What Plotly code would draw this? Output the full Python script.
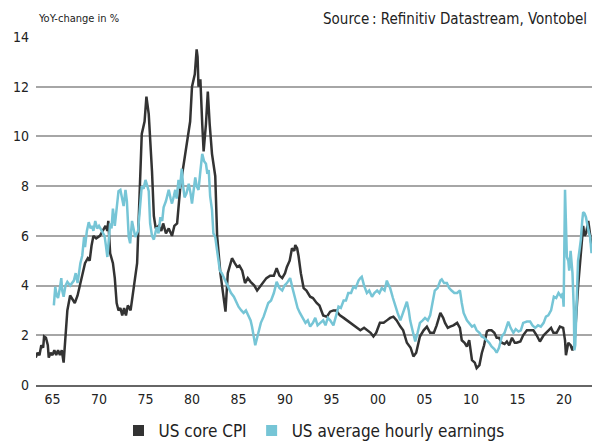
import plotly.graph_objects as go

# ---- data ----
cpi_year = [1963.2, 1963.4, 1963.6, 1963.8, 1964.0, 1964.1, 1964.3, 1964.5, 1964.6, 1964.8,
            1965.0, 1965.2, 1965.4, 1965.6, 1965.8, 1966.0, 1966.2, 1966.4, 1966.6, 1966.9,
            1967.1, 1967.4, 1967.7, 1968.0, 1968.3, 1968.5, 1968.8, 1969.0, 1969.2, 1969.4,
            1969.7, 1970.1, 1970.4, 1970.7, 1970.9, 1971.0, 1971.2, 1971.5, 1971.7, 1971.9,
            1972.1, 1972.3, 1972.5, 1972.7, 1972.9, 1973.1, 1973.4, 1973.7, 1974.1, 1974.3,
            1974.6, 1974.9, 1975.1, 1975.35, 1975.5, 1975.7, 1975.9, 1976.1, 1976.4, 1976.7,
            1976.9, 1977.2, 1977.5, 1977.85, 1978.1, 1978.4, 1978.75, 1979.0, 1979.3, 1979.6,
            1979.8, 1980.0, 1980.3, 1980.5, 1980.6, 1980.7, 1980.9, 1981.1, 1981.25, 1981.5,
            1981.7, 1981.9, 1982.15, 1982.5, 1982.7, 1983.05, 1983.3, 1983.6, 1983.85, 1984.1,
            1984.3, 1984.6, 1984.85, 1985.1, 1985.4, 1985.7, 1986.0, 1986.3, 1986.7, 1987.0,
            1987.4, 1987.7, 1988.0, 1988.4, 1988.8, 1989.1, 1989.4, 1989.7, 1990.0, 1990.2,
            1990.5, 1990.75, 1991.0, 1991.1, 1991.3, 1991.45, 1991.7, 1992.0, 1992.3, 1992.7,
            1993.0, 1993.4, 1993.7, 1994.1, 1994.5, 1994.85, 1995.2, 1995.5, 1995.9, 1996.3,
            1996.65, 1997.0, 1997.35, 1997.7, 1998.1, 1998.5, 1998.8, 1999.2, 1999.5, 1999.8,
            2000.2, 2000.6, 2000.95, 2001.3, 2001.65, 2002.0, 2002.4, 2002.7, 2003.1, 2003.5,
            2003.8, 2004.1, 2004.5, 2004.9, 2005.25, 2005.6, 2006.0, 2006.3, 2006.7, 2007.0,
            2007.2, 2007.5, 2007.75, 2008.1, 2008.5, 2008.8, 2009.0, 2009.3, 2009.55, 2009.8,
            2010.1, 2010.4, 2010.6, 2010.9, 2011.15, 2011.4, 2011.7, 2011.9, 2012.2, 2012.5,
            2012.75, 2013.0, 2013.3, 2013.6, 2013.85, 2014.1, 2014.4, 2014.7, 2014.9, 2015.3,
            2015.6, 2016.0, 2016.35, 2016.7, 2017.05, 2017.4, 2017.8, 2018.3, 2018.6, 2018.85,
            2019.2, 2019.55, 2019.9, 2020.1, 2020.2, 2020.45, 2020.7, 2020.9, 2021.1, 2021.5,
            2021.8, 2022.05, 2022.2, 2022.36, 2022.6, 2022.8, 2022.97]
cpi_value = [1.1, 1.3, 1.2, 1.6, 1.5, 1.95, 1.9, 1.6, 1.1, 1.3,
             1.2, 1.4, 1.2, 1.4, 1.2, 1.4, 0.9, 2.0, 3.0, 3.6,
             3.5, 3.3, 3.6, 4.1, 4.6, 4.9, 5.1, 5.0, 5.6, 6.0,
             5.9, 6.0, 6.2, 6.4, 6.2, 6.6, 5.3, 4.9, 4.3, 3.3,
             3.0, 3.1, 2.8, 3.1, 2.8, 3.2, 3.0, 3.8, 4.9, 7.0,
             10.1, 10.6, 11.6, 10.9, 10.0, 8.6, 6.8, 6.3, 6.4, 6.2,
             6.5, 6.1, 6.3, 6.0, 6.4, 6.5, 8.0, 8.6, 9.4, 10.0,
             10.6, 12.0, 12.5, 13.5, 13.2, 12.0, 12.3, 10.5, 9.4, 10.5,
             11.8, 10.5, 9.3, 8.4, 6.0, 4.5, 3.8, 2.95, 4.5, 4.9,
             5.1, 4.9, 4.75, 4.8, 4.6, 4.1, 4.3, 4.15, 4.0, 3.8,
             4.0, 4.2, 4.3, 4.4, 4.4, 4.7, 4.4, 4.3, 4.5, 4.75,
             5.0, 5.5, 5.4, 5.63, 5.5, 5.2, 4.5, 3.9, 3.8, 3.55,
             3.5, 3.3, 3.2, 2.8, 2.75, 2.95, 3.0, 3.0, 2.8, 2.7,
             2.6, 2.5, 2.4, 2.3, 2.2, 2.3, 2.2, 2.1, 1.95, 2.1,
             2.5, 2.5, 2.6, 2.7, 2.75, 2.6, 2.35, 2.2, 1.7, 1.5,
             1.15, 1.3, 1.95, 2.2, 2.35, 2.1, 2.1, 2.4, 2.9, 2.7,
             2.5, 2.3, 2.35, 2.4, 2.5, 2.3, 1.8, 1.7, 1.55, 1.8,
             1.0, 0.9, 0.68, 0.8, 1.28, 1.6, 2.15, 2.2, 2.2, 2.1,
             1.9, 1.9, 1.7, 1.65, 1.75, 1.6, 1.9, 1.7, 1.7, 1.75,
             2.0, 2.2, 2.2, 2.2, 2.0, 1.75, 2.0, 2.2, 2.3, 2.1,
             2.1, 2.35, 2.3, 1.8, 1.2, 1.7, 1.6, 1.4, 1.6, 3.95,
             5.2, 6.4, 6.0, 6.1, 6.6, 6.0, 5.55]

ahe_year = [1965.15, 1965.3, 1965.45, 1965.6, 1965.8, 1965.95, 1966.05, 1966.2, 1966.4, 1966.6,
            1966.9, 1967.1, 1967.3, 1967.5, 1967.7, 1968.0, 1968.2, 1968.4, 1968.5, 1968.7,
            1968.9, 1969.1, 1969.25, 1969.4, 1969.6, 1969.8, 1970.0, 1970.3, 1970.6, 1970.75,
            1970.9, 1971.05, 1971.2, 1971.35, 1971.5, 1971.7, 1971.9, 1972.1, 1972.3, 1972.5,
            1972.65, 1972.85, 1973.0, 1973.2, 1973.35, 1973.55, 1973.75, 1973.9, 1974.2, 1974.4,
            1974.6, 1974.8, 1975.0, 1975.2, 1975.35, 1975.5, 1975.7, 1975.9, 1976.2, 1976.4,
            1976.6, 1976.8, 1976.95, 1977.2, 1977.5, 1977.7, 1977.85, 1978.05, 1978.2, 1978.35,
            1978.55, 1978.7, 1978.9, 1979.05, 1979.2, 1979.4, 1979.65, 1979.85, 1980.0, 1980.2,
            1980.35, 1980.5, 1980.7, 1980.9, 1981.1, 1981.3, 1981.5, 1981.65, 1981.8, 1981.95,
            1982.15, 1982.3, 1982.5, 1982.7, 1983.0, 1983.2, 1983.4, 1983.7, 1983.95, 1984.2,
            1984.5, 1984.8, 1985.0, 1985.3, 1985.55, 1985.8, 1986.1, 1986.3, 1986.45, 1986.65,
            1986.8, 1987.0, 1987.15, 1987.4, 1987.7, 1987.95, 1988.2, 1988.5, 1988.8, 1989.1,
            1989.4, 1989.7, 1989.95, 1990.2, 1990.55, 1990.8, 1991.1, 1991.35, 1991.6, 1991.9,
            1992.2, 1992.45, 1992.7, 1993.0, 1993.25, 1993.5, 1993.8, 1994.1, 1994.35, 1994.6,
            1994.85, 1995.2, 1995.5, 1995.75, 1996.0, 1996.3, 1996.55, 1996.8, 1997.1, 1997.35,
            1997.6, 1997.9, 1998.1, 1998.25, 1998.5, 1998.8, 1999.05, 1999.35, 1999.6, 1999.9,
            2000.15, 2000.4, 2000.7, 2000.95, 2001.1, 2001.3, 2001.6, 2001.85, 2002.1, 2002.4,
            2002.75, 2003.1, 2003.3, 2003.45, 2003.7, 2004.0, 2004.25, 2004.5, 2004.8, 2005.05,
            2005.35, 2005.6, 2005.85, 2006.1, 2006.4, 2006.7, 2006.85, 2007.1, 2007.4, 2007.65,
            2007.9, 2008.2, 2008.5, 2008.8, 2009.0, 2009.2, 2009.55, 2009.8, 2010.1, 2010.35,
            2010.6, 2010.9, 2011.15, 2011.4, 2011.7, 2011.95, 2012.2, 2012.5, 2012.75, 2013.0,
            2013.3, 2013.6, 2014.0, 2014.25, 2014.55, 2014.8, 2015.1, 2015.35, 2015.6, 2016.0,
            2016.35, 2016.6, 2016.9, 2017.2, 2017.5, 2017.8, 2018.05, 2018.3, 2018.6, 2018.9,
            2019.15, 2019.4, 2019.6, 2019.75, 2019.85, 2019.95, 2020.1, 2020.2, 2020.3, 2020.45,
            2020.55, 2020.7, 2020.85, 2020.9, 2021.05, 2021.1, 2021.2, 2021.35, 2021.5, 2021.65,
            2021.8, 2021.95, 2022.05, 2022.2, 2022.35, 2022.6, 2022.8, 2022.95]
ahe_value = [3.2, 3.95, 3.6, 3.5, 3.9, 4.3, 3.8, 3.55, 4.0, 4.15,
             4.0, 4.1, 4.2, 4.5, 4.1, 4.9, 5.2, 5.95, 5.55, 6.2,
             6.55, 6.3, 6.4, 6.2, 6.6, 6.3, 6.4, 6.2, 6.0, 5.6,
             5.15, 5.8, 6.5, 6.3, 7.1, 6.4, 7.0, 7.8, 7.85, 7.5,
             7.2, 7.85, 7.4, 5.95, 5.7, 6.6, 6.2, 5.95, 6.2, 7.0,
             8.0, 7.9, 8.25, 8.0, 7.8, 6.5, 6.0, 5.85, 6.35, 6.1,
             6.75, 6.6, 7.15, 7.4, 7.85, 7.5, 7.3, 7.6, 7.85, 7.5,
             8.25, 7.9, 8.7, 8.0, 7.55, 7.7, 8.1, 7.7, 7.3, 7.9,
             8.35, 8.0, 7.85, 8.6, 9.3, 9.0, 8.9, 8.5, 8.65, 7.6,
             7.05, 6.1, 5.95, 5.4, 4.6, 4.5, 4.35, 4.1, 3.95, 3.7,
             3.55, 3.3, 3.15, 3.0, 2.9, 3.0, 2.75, 2.6, 2.35, 1.9,
             1.6, 1.9, 2.1, 2.5, 2.75, 3.0, 3.3, 3.4, 3.7, 4.15,
             3.9, 3.8, 4.0, 4.1, 4.3, 3.9, 3.4, 3.1, 2.9, 2.7,
             2.5, 2.6, 2.35, 2.5, 2.7, 2.4, 2.5, 2.6, 2.4, 2.7,
             2.6, 2.4, 2.8, 3.15, 3.1, 3.4, 3.4, 3.7, 3.7, 3.95,
             3.9, 4.2, 4.3, 4.35, 4.0, 3.7, 3.8, 3.55, 3.7, 3.8,
             3.7, 3.9, 3.8, 4.2, 4.05, 3.9, 3.5, 3.15, 2.9, 2.6,
             3.0, 3.35, 3.0, 2.6, 2.2, 1.75, 2.1, 2.5, 2.6, 2.7,
             2.6, 2.8, 3.3, 3.8, 3.9, 4.2, 4.25, 4.1, 4.1, 3.9,
             3.8, 3.7, 3.7, 3.8, 3.3, 2.9, 2.6, 2.5, 2.35, 2.4,
             2.2, 2.1, 1.95, 1.9, 1.8, 1.7, 1.55, 1.45, 1.3, 1.5,
             1.95, 2.1, 2.55, 2.3, 2.1, 2.25, 2.15, 2.2, 2.5, 2.55,
             2.55, 2.4, 2.3, 2.4, 2.35, 2.5, 2.75, 2.8, 3.0, 3.55,
             3.5, 3.7, 3.6, 3.5, 3.7, 3.15, 7.85, 6.5, 5.15, 5.0,
             4.6, 5.4, 4.8, 4.5, 3.0, 1.4, 1.6, 3.5, 5.0, 5.4,
             5.85, 6.6, 6.95, 6.9, 6.75, 6.25, 5.95, 5.3]

tick_years = [1965, 1970, 1975, 1980, 1985, 1990, 1995, 2000, 2005, 2010, 2015, 2020]
tick_labels = ["65", "70", "75", "80", "85", "90", "95", "00", "05", "10", "15", "20"]

series_names = ["US core CPI", "US average hourly earnings"]
CPI_COLOR = "#333333"
AHE_COLOR = "#76C5D6"
FONT = "DejaVu Sans Condensed, Liberation Sans, sans-serif"

fig = go.Figure()
fig.add_trace(go.Scatter(x=cpi_year, y=cpi_value, mode="lines",
                         line=dict(color=CPI_COLOR, width=2.5), showlegend=False))
fig.add_trace(go.Scatter(x=ahe_year, y=ahe_value, mode="lines",
                         line=dict(color=AHE_COLOR, width=2.5), showlegend=False))
# legend entries with square markers
fig.add_trace(go.Scatter(x=[None], y=[None], mode="markers", name=series_names[0],
                         marker=dict(symbol="square", size=11, color=CPI_COLOR)))
fig.add_trace(go.Scatter(x=[None], y=[None], mode="markers", name=series_names[1],
                         marker=dict(symbol="square", size=11, color=AHE_COLOR)))

fig.update_layout(
    width=594, height=442,
    margin=dict(l=36, r=2, t=37, b=57, autoexpand=False),
    paper_bgcolor="white", plot_bgcolor="white",
    font=dict(family=FONT, color="#222222"),
    showlegend=True,
    legend=dict(orientation="h", x=0.5, xanchor="center",
                yref="container", y=11 / 442, yanchor="middle",
                font=dict(size=17, color="#222222"), itemwidth=30,
                bgcolor="rgba(0,0,0,0)"),
    xaxis=dict(range=[1963.23, 2023.0], tickvals=tick_years, ticktext=tick_labels,
               showgrid=False, zeroline=False, showline=True, linecolor="#666666",
               linewidth=1.5, ticks="", tickfont=dict(size=14, family=FONT, color="#222222"),
               fixedrange=True, automargin=False),
    yaxis=dict(range=[0, 14], dtick=2, tick0=0, showgrid=True, gridcolor="#A6A6A6",
               gridwidth=1.5, zeroline=False, showline=False, ticks="",
               tickfont=dict(size=14, family=FONT, color="#222222"),
               ticklabelstandoff=6, fixedrange=True, automargin=False),
    annotations=[
        dict(text="YoY-change in %", xref="paper", yref="paper", x=0, y=1,
             xanchor="left", yanchor="middle", xshift=0, yshift=19, showarrow=False,
             font=dict(size=11, family=FONT, color="#222222")),
        dict(text="Source\u2009: Refinitiv Datastream, Vontobel", xref="paper", yref="paper",
             x=1, y=1, xanchor="right", yanchor="middle", xshift=-3, yshift=18,
             showarrow=False, font=dict(size=15, family=FONT, color="#222222")),
    ],
)

fig.write_html("out.html", config={"displayModeBar": False},
               post_script="document.body.style.margin='0';document.body.style.padding='0';")
